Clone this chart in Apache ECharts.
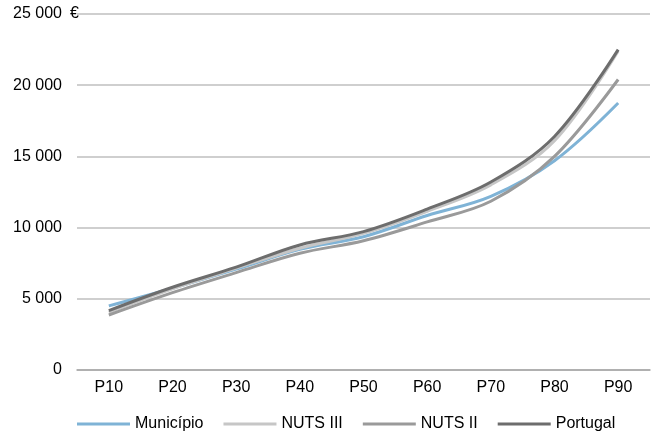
<!DOCTYPE html>
<html><head><meta charset="utf-8">
<script src="https://cdn.jsdelivr.net/npm/echarts@6/dist/echarts.min.js"></script>
<style>html,body{margin:0;padding:0;background:#fff}#c{width:657px;height:434px}</style>
</head><body><div id="c"></div>
<script>
const categories = ['P10','P20','P30','P40','P50','P60','P70','P80','P90'];
const municipio = [4500, 5740, 7080, 8480, 9360, 10850, 12200, 14700, 18750];
const nutsIII = [4050, 5700, 7150, 8550, 9600, 11150, 13000, 16100, 22400];
const nutsII = [3860, 5430, 6840, 8200, 9080, 10400, 11850, 15000, 20400];
const portugal = [4170, 5810, 7220, 8780, 9720, 11300, 13200, 16400, 22500];
const seriesNames = ['Município','NUTS III','NUTS II','Portugal'];
const unitLabel = '€';
const colors = ['#7fb3d6','#c6c6c6','#9a9a9a','#6d6d6d'];
const font = 'Liberation Sans, Arial, sans-serif';
const chart = echarts.init(document.getElementById('c'));
const fmt = v => String(v).replace(/\B(?=(\d{3})+(?!\d))/g, ' ');
const dataSets = [municipio, nutsIII, nutsII, portugal];
chart.setOption({
  animation: false,
  grid: { left: 77, right: 7, top: 14, bottom: 64 },
  legend: {
    top: 411, left: 72, itemWidth: 53, itemHeight: 3, itemGap: 20,
    textStyle: { fontFamily: font, fontSize: 16, color: '#000' },
    icon: 'rect',
    data: seriesNames
  },
  xAxis: {
    type: 'category', data: categories, boundaryGap: true,
    axisLine: { lineStyle: { color: '#a6a6a6', width: 1.5 } },
    axisTick: { show: false },
    axisLabel: { fontFamily: font, fontSize: 16, color: '#000', margin: 10 }
  },
  yAxis: {
    type: 'value', min: 0, max: 25000, interval: 5000,
    axisLine: { show: false }, axisTick: { show: false },
    splitLine: { lineStyle: { color: '#bfbfbf', width: 1.5 } },
    axisLabel: { fontFamily: font, fontSize: 16, color: '#000', formatter: fmt, margin: 15, align: 'right' }
  },
  series: dataSets.map((d, i) => ({
    name: seriesNames[i], type: 'line', data: d, smooth: 0.35,
    showSymbol: false, symbol: 'none',
    lineStyle: { color: colors[i], width: 3 },
    itemStyle: { color: colors[i] }
  }))
});
const yTop = chart.convertToPixel({ yAxisIndex: 0 }, 25000);
chart.setOption({
  graphic: [{
    type: 'text', left: 70, top: yTop - 8, z: 10,
    style: { text: unitLabel, font: '16px ' + font, fill: '#000' }
  }]
});
</script></body></html>
